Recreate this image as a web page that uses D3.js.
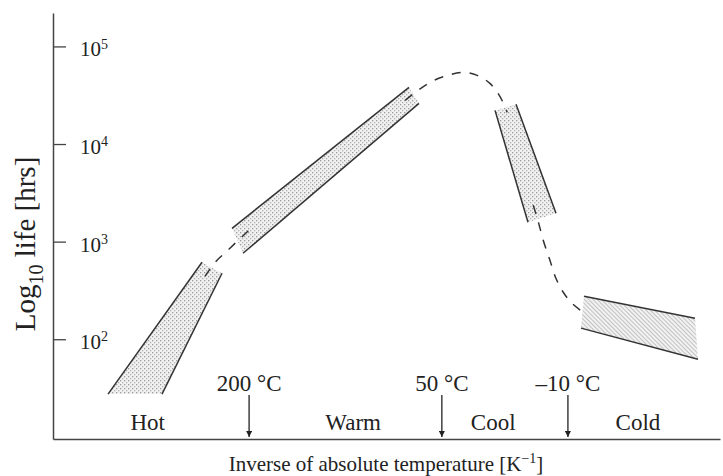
<!DOCTYPE html>
<html>
<head>
<meta charset="utf-8">
<script src="https://cdn.jsdelivr.net/npm/d3@7"></script>
<style>
  body { margin: 0; background: #fff; }
  svg { display: block; font-family: "Liberation Serif", "DejaVu Serif", serif; }
</style>
</head>
<body>
<svg id="chart" width="723" height="476"></svg>
<script>
// x: schematic inverse-temperature position (0..100), y: life in hours (log)
const lifeTicks = [1e2, 1e3, 1e4, 1e5];

const regionNames = ["Hot", "Warm", "Cool", "Cold"];
const regionX = [14.2, 45.0, 66.0, 87.7];

const tempLabels = ["200 °C", "50 °C", "–10 °C"];
const tempX = [29.4, 58.3, 77.2];

// bands: two solid edges each, [x, hours]
const hotEdgeA = [[8.25, 27.4], [22.34, 614]];
const hotEdgeB = [[16.34, 27.4], [25.34, 474]];
const warmEdgeA = [[26.84, 1369], [53.37, 38000]];
const warmEdgeB = [[28.49, 760], [54.87, 26100]];
const coolEdgeA = [[66.27, 22100], [71.21, 1580]];
const coolEdgeB = [[69.42, 25500], [75.41, 1950]];
const coldEdgeA = [[79.61, 275], [96.25, 164]];
const coldEdgeB = [[79.16, 130], [96.70, 62.4]];

// dashed trend between the bands
const dashHotWarm = [[22.8, 442], [24.3, 614], [26.2, 815], [30.3, 1503]];
const dashWarmCool = [[52.8, 28000], [54.7, 35400], [56.8, 43800], [59.2, 50500],
  [61.5, 54200], [63.6, 50500], [65.5, 41800], [67.0, 30800], [68.1, 21100]];
const dashCoolCold = [[72.0, 2360], [72.7, 1650], [73.5, 1032], [74.5, 644],
  [75.4, 421], [76.5, 303], [77.8, 234], [79.9, 180]];

const width = 723, height = 476;
const margin = { top: 13, right: 3, bottom: 37, left: 53 };

const svg = d3.select("#chart");

const x = d3.scaleLinear().domain([0, 100]).range([margin.left, width - margin.right]);
const y = d3.scaleLog().domain([9.5, 2.2e5]).range([height - margin.bottom, margin.top]);

// fill textures
const defs = svg.append("defs");
const dots = defs.append("pattern")
  .attr("id", "dots").attr("width", 4).attr("height", 4)
  .attr("patternUnits", "userSpaceOnUse");
dots.append("rect").attr("width", 4).attr("height", 4).attr("fill", "#f1f1f1");
dots.append("rect").attr("width", 1.3).attr("height", 1.3).attr("fill", "#9c9c9c");
dots.append("rect").attr("x", 2).attr("y", 2).attr("width", 1.3).attr("height", 1.3).attr("fill", "#b4b4b4");

const hatch = defs.append("pattern")
  .attr("id", "hatch").attr("width", 3).attr("height", 3)
  .attr("patternUnits", "userSpaceOnUse")
  .attr("patternTransform", "rotate(-45)");
hatch.append("rect").attr("width", 3).attr("height", 3).attr("fill", "#f2f2f2");
hatch.append("rect").attr("width", 1).attr("height", 3).attr("fill", "#c2c2c2");

defs.append("marker")
  .attr("id", "arrow").attr("viewBox", "0 0 10 10")
  .attr("refX", 10).attr("refY", 5)
  .attr("markerWidth", 9).attr("markerHeight", 6)
  .attr("markerUnits", "userSpaceOnUse")
  .attr("orient", "auto")
  .append("path").attr("d", "M0,0 L10,5 L0,10 z").attr("fill", "#222");

// axes
const yAxis = d3.axisRight(y)
  .tickValues(lifeTicks)
  .tickSize(13).tickSizeOuter(0).tickPadding(14)
  .tickFormat(() => "10");
const gy = svg.append("g").attr("transform", `translate(${margin.left},0)`).call(yAxis);
gy.select(".domain").attr("stroke", "#444").attr("stroke-width", 1.5);
gy.selectAll(".tick line").attr("stroke", "#444").attr("stroke-width", 1.3);
gy.selectAll(".tick text")
  .attr("font-size", 21).attr("fill", "#222").attr("font-family", "Liberation Serif")
  .attr("dy", "0.45em")
  .append("tspan")
  .attr("dy", "-0.55em").attr("font-size", 14)
  .text(d => Math.round(Math.log10(d)));

const xAxis = d3.axisBottom(x).tickValues([]).tickSizeOuter(0);
const gx = svg.append("g").attr("transform", `translate(0,${height - margin.bottom})`).call(xAxis);
gx.select(".domain").attr("stroke", "#444").attr("stroke-width", 1.5);

// bands
const bands = [
  { a: hotEdgeA, b: hotEdgeB, fill: "url(#dots)" },
  { a: warmEdgeA, b: warmEdgeB, fill: "url(#dots)" },
  { a: coolEdgeA, b: coolEdgeB, fill: "url(#dots)" },
  { a: coldEdgeA, b: coldEdgeB, fill: "url(#hatch)" }
];
const line = d3.line().x(d => x(d[0])).y(d => y(d[1]));

svg.append("g").selectAll("path")
  .data(bands)
  .join("path")
  .attr("d", d => line(d.a.concat(d.b.slice().reverse())) + "Z")
  .attr("fill", d => d.fill)
  .attr("stroke", "none");

svg.append("g").selectAll("path")
  .data(bands.flatMap(d => [d.a, d.b]))
  .join("path")
  .attr("d", line)
  .attr("fill", "none")
  .attr("stroke", "#333")
  .attr("stroke-width", 1.5);

// dashed curve
const curve = d3.line().x(d => x(d[0])).y(d => y(d[1])).curve(d3.curveCatmullRom);
svg.append("g").selectAll("path")
  .data([dashHotWarm, dashWarmCool, dashCoolCold])
  .join("path")
  .attr("d", curve)
  .attr("fill", "none")
  .attr("stroke", "#333")
  .attr("stroke-width", 1.5)
  .attr("stroke-dasharray", "9,9");

// temperature markers
const marks = svg.append("g").selectAll("g")
  .data(tempLabels)
  .join("g")
  .attr("transform", (d, i) => `translate(${x(tempX[i])},0)`);
marks.append("line")
  .attr("y1", 395).attr("y2", 437)
  .attr("stroke", "#222").attr("stroke-width", 1.3)
  .attr("marker-end", "url(#arrow)");
marks.append("text")
  .attr("y", 391)
  .attr("text-anchor", "middle")
  .attr("font-size", 23).attr("fill", "#222")
  .text(d => d);

// region names
svg.append("g").selectAll("text")
  .data(regionNames)
  .join("text")
  .attr("x", (d, i) => x(regionX[i]))
  .attr("y", 430)
  .attr("text-anchor", "middle")
  .attr("font-size", 23).attr("fill", "#222")
  .text(d => d);

// axis titles
const xt = svg.append("text")
  .attr("x", 386).attr("y", 471)
  .attr("text-anchor", "middle")
  .attr("font-size", 21).attr("fill", "#222");
xt.append("tspan").text("Inverse of absolute temperature [K");
xt.append("tspan").attr("dy", -8).attr("font-size", 14).text("−1");
xt.append("tspan").attr("dy", 8).text("]");

const yt = svg.append("text")
  .attr("transform", "translate(35,244) rotate(-90)")
  .attr("text-anchor", "middle")
  .attr("font-size", 29).attr("fill", "#222");
yt.append("tspan").text("Log");
yt.append("tspan").attr("dy", 8).attr("font-size", 20).text("10");
yt.append("tspan").attr("dy", -8).text(" life [hrs]");
</script>
</body>
</html>
